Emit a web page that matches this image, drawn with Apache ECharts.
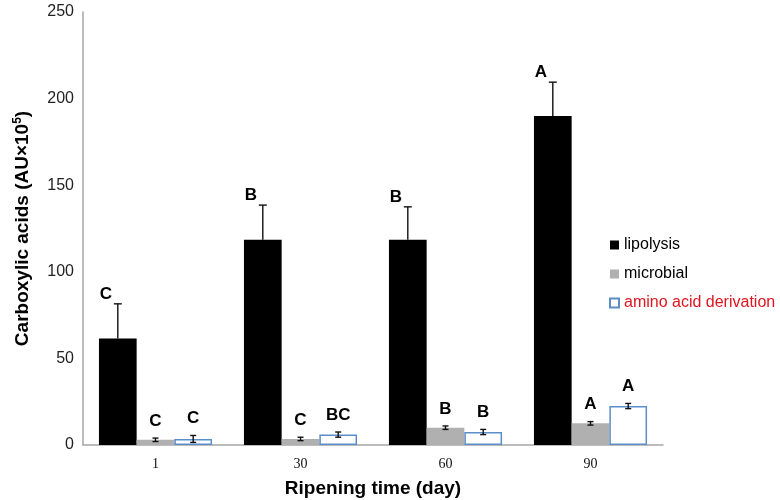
<!DOCTYPE html>
<html><head><meta charset="utf-8">
<script src="https://cdn.jsdelivr.net/npm/echarts@6/dist/echarts.min.js"></script>
<style>html,body{margin:0;padding:0;background:#fff}#c{width:780px;height:500px}</style>
</head><body><div id="c"></div>
<script>
const categories = ['1', '30', '60', '90'];
const lipolysis = [61.5, 118.5, 118.5, 190];
const lipolysisErr = [20, 20, 19, 19.5];
const microbial = [3, 3.5, 10, 12.5];
const microbialErr = [1, 1, 1, 1];
const amino = [3.5, 6, 7.5, 22.5];
const aminoErr = [2, 1.5, 1.5, 1.5];
const lipolysisLetters = ['C', 'B', 'B', 'A'];
const microbialLetters = ['C', 'C', 'B', 'A'];
const aminoLetters = ['C', 'BC', 'B', 'A'];
const yTicks = [0, 50, 100, 150, 200, 250];

const BAR_RATIO = 0.26;
const FONT = '"Liberation Sans", Arial, Helvetica, sans-serif';

function errSeries(name, vals, errs, letters, slot, bothSides, capW, lx, ly) {
  return {
    type: 'custom', name: name + '_err', silent: true, z: 5,
    data: vals.map((v, i) => [i, v, errs[i], letters[i]]),
    renderItem: function (params, api) {
      const idx = api.value(0), v = api.value(1), e = api.value(2);
      const band = api.size([1, 0])[0];
      const off = slot * band * BAR_RATIO;
      const top = api.coord([idx, v + e]);
      const mid = api.coord([idx, v]);
      const low = api.coord([idx, v - e]);
      const x = top[0] + off;
      const style = { stroke: '#111', lineWidth: 1.4 };
      const children = [
        { type: 'line', shape: { x1: x, y1: top[1], x2: x, y2: bothSides ? low[1] : mid[1] }, style: style },
        { type: 'line', shape: { x1: x - capW / 2, y1: top[1], x2: x + capW / 2, y2: top[1] }, style: style }
      ];
      if (bothSides) children.push({ type: 'line', shape: { x1: x - capW / 2, y1: low[1], x2: x + capW / 2, y2: low[1] }, style: style });
      children.push({ type: 'text', x: x + lx, y: top[1] + ly,
        style: { text: letters[idx], font: 'bold 17px ' + FONT, fill: '#000', align: 'center', verticalAlign: 'middle' } });
      return { type: 'group', children: children };
    }
  };
}

const chart = echarts.init(document.getElementById('c'));
chart.setOption({
  animation: false,
  backgroundColor: '#fff',
  grid: { left: 83, right: 117, top: 12, bottom: 55, outerBoundsMode: 'none', containLabel: false },
  legend: {
    orient: 'vertical', left: 604, top: 232, itemWidth: 9, itemHeight: 9, itemGap: 13,
    textStyle: { fontFamily: FONT, fontSize: 16, color: '#000' },
    data: [
      { name: 'lipolysis', icon: 'rect' },
      { name: 'microbial', icon: 'rect' },
      { name: 'amino acid derivation', icon: 'rect', textStyle: { color: '#e0141e' } }
    ]
  },
  xAxis: {
    type: 'category', data: categories,
    axisLine: { lineStyle: { color: '#a6a6a6', width: 1.5 } },
    axisTick: { show: false },
    axisLabel: { fontFamily: '"Liberation Serif", "Times New Roman", serif', fontSize: 14, color: '#111', margin: 12 },
    name: 'Ripening time (day)', nameLocation: 'middle', nameGap: 34,
    nameTextStyle: { fontFamily: FONT, fontWeight: 'bold', fontSize: 19, color: '#000' }
  },
  yAxis: {
    type: 'value', min: 0, max: 250, interval: 50,
    axisLine: { show: true, lineStyle: { color: '#a6a6a6', width: 1.5 } },
    axisTick: { show: false },
    splitLine: { show: false },
    axisLabel: { fontFamily: FONT, fontSize: 16, color: '#222', margin: 9,
      formatter: v => yTicks.includes(v) ? String(v) : '' },
    name: 'Carboxylic acids (AU×10{sup|5})', nameLocation: 'middle', nameGap: 49, nameRotate: 90,
    nameTextStyle: { fontFamily: FONT, fontWeight: 'bold', fontSize: 19, color: '#000',
      rich: { sup: { fontFamily: FONT, fontWeight: 'bold', fontSize: 12, color: '#000', padding: [0, 0, 10, 0] } } }
  },
  series: [
    { type: 'bar', name: 'lipolysis', data: lipolysis, barWidth: (BAR_RATIO * 100) + '%', barGap: '0%',
      itemStyle: { color: '#000' } },
    { type: 'bar', name: 'microbial', data: microbial, barWidth: (BAR_RATIO * 100) + '%', barGap: '0%',
      itemStyle: { color: '#b0b0b0' } },
    { type: 'bar', name: 'amino acid derivation', data: amino, barWidth: (BAR_RATIO * 100) + '%', barGap: '0%',
      itemStyle: { color: '#fff', borderColor: '#5b8ec8', borderWidth: 1.5 } },
    errSeries('lipolysis', lipolysis, lipolysisErr, lipolysisLetters, -1, false, 8, -12, -10),
    errSeries('microbial', microbial, microbialErr, microbialLetters, 0, true, 6, 0, -17),
    errSeries('amino', amino, aminoErr, aminoLetters, 1, true, 6, 0, -17)
  ]
});
</script>
</body></html>
